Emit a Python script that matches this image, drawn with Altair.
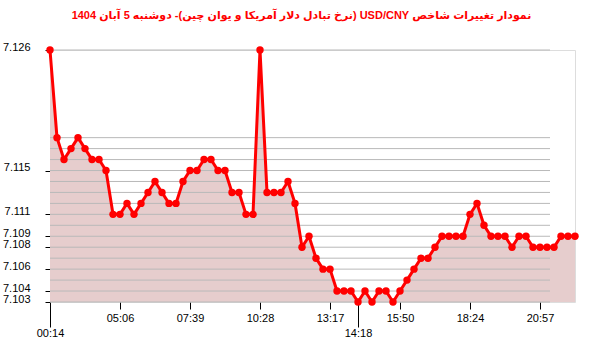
import altair as alt
import pandas as pd

# ---- data ----
values = [7.126, 7.118, 7.116, 7.117, 7.118, 7.117, 7.116, 7.116, 7.115, 7.111,
          7.111, 7.112, 7.111, 7.112, 7.113, 7.114, 7.113, 7.112, 7.112, 7.114,
          7.115, 7.115, 7.116, 7.116, 7.115, 7.115, 7.113, 7.113, 7.111, 7.111,
          7.126, 7.113, 7.113, 7.113, 7.114, 7.112, 7.108, 7.109, 7.107, 7.106,
          7.106, 7.104, 7.104, 7.104, 7.103, 7.104, 7.103, 7.104, 7.104, 7.103,
          7.104, 7.105, 7.106, 7.107, 7.107, 7.108, 7.109, 7.109, 7.109, 7.109,
          7.111, 7.112, 7.110, 7.109, 7.109, 7.109, 7.108, 7.109, 7.109, 7.108,
          7.108, 7.108, 7.108, 7.109, 7.109, 7.109]
x_tick_index = [0, 10, 20, 30, 40, 44, 50, 60, 70]
x_tick_labels = ["00:14", "05:06", "07:39", "10:28", "13:17", "14:18", "15:50", "18:24", "20:57"]
x_low_row = [0, 44]
y_tick_labels = [7.126, 7.115, 7.111, 7.109, 7.108, 7.106, 7.104, 7.103]
grid_values = [7.103, 7.104, 7.105, 7.106, 7.107, 7.108, 7.109, 7.110, 7.111,
               7.112, 7.113, 7.114, 7.115, 7.116, 7.117, 7.118, 7.126]
title_text = "نمودار تغییرات شاخص USD/CNY (نرخ تبادل دلار آمریکا و یوان چین)-  دوشنبه  5 آبان 1404"

df = pd.DataFrame({"i": list(range(len(values))), "v": values})
grid_df = pd.DataFrame({"v": grid_values})

low_test = " || ".join(f"datum.value == {k}" for k in x_low_row)
label_expr = ("[" + ",".join(f"'{s}'" for s in x_tick_labels) + "][indexof(["
              + ",".join(str(k) for k in x_tick_index) + "], datum.value)]")

x_scale = alt.Scale(domain=[0, len(values) - 1], nice=False, zero=False)
y_scale = alt.Scale(domain=[min(grid_values), max(grid_values)], nice=False, zero=False)

x_axis = alt.Axis(values=x_tick_index, labelExpr=label_expr, grid=False, domain=False,
                  title=None, labelAngle=0, labelFlush=False, labelOverlap=False,
                  tickColor="#000", tickWidth=1,
                  tickSize={"condition": {"test": low_test, "value": 25}, "value": 7},
                  labelPadding={"condition": {"test": low_test, "value": 0}, "value": 3},
                  labelBaseline="top",
                  labelFont="Liberation Sans", labelFontSize=11, labelColor="#000")
y_axis = alt.Axis(values=y_tick_labels, format=".3f", grid=False, title=None,
                  domain=True, domainColor="#777", tickColor="#000", tickSize=5,
                  labelPadding=15, labelOffset=-3, labelOverlap=False,
                  labelFont="Liberation Sans", labelFontSize=11, labelColor="#000")

X = alt.X("i:Q", scale=x_scale, axis=x_axis)
Y = alt.Y("v:Q", scale=y_scale, axis=y_axis)

area = alt.Chart(df).mark_area(color="#e6cdcd", opacity=1).encode(
    x=X, y=Y, y2=alt.datum(min(grid_values)))

grid = alt.Chart(grid_df).mark_rule(color="#b9b9b9", strokeWidth=1).encode(
    y=Y, x=alt.value(0), x2=alt.value(500))

line = alt.Chart(df).mark_line(color="#ff0000", strokeWidth=3).encode(x=X, y=Y)
pts = alt.Chart(df).mark_circle(color="#ff0000", size=55, opacity=1).encode(x=X, y=Y)

chart = alt.layer(area, grid, line, pts).properties(
    width=525, height=252,
    title=alt.Title("\u202b" + title_text + "\u202c",
                    color="#ff0000", font="Liberation Sans, DejaVu Sans", fontSize=11,
                    fontWeight="bold", anchor="middle", offset=20, dx=-11),
    autosize=alt.AutoSizeParams(type="none"),
    padding={"left": 50, "top": 50, "right": 25, "bottom": 50},
).configure_view(stroke=None).configure(background="white")

chart.save("out.html", embed_options={"renderer": "svg", "actions": False})
